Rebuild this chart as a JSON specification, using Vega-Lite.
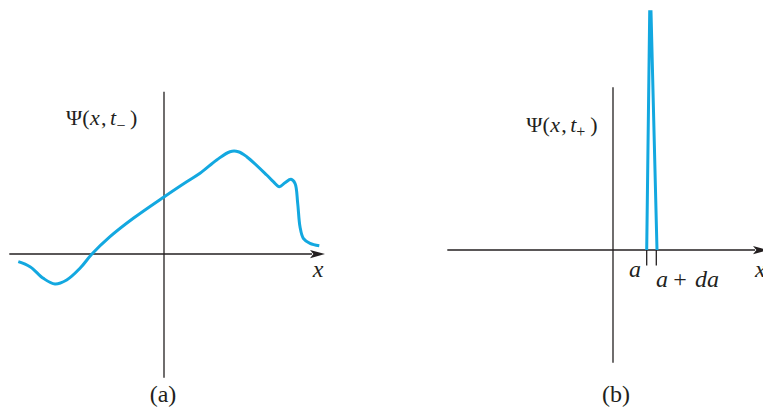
{
  "$schema": "https://vega.github.io/schema/vega-lite/v6.json",
  "padding": 0,
  "spacing": 0,
  "bounds": "flush",
  "background": "white",
  "config": {"view": {"stroke": null}, "text": {"font": "Liberation Serif", "color": "#231f20"}},
  "datasets": {
    "curve": [
      {"x": -14.57, "y": -0.77}, {"x": -13.4, "y": -1.27}, {"x": -12.07, "y": -2.43}, {"x": -10.9, "y": -3.0},
      {"x": -9.73, "y": -2.6}, {"x": -8.4, "y": -1.43}, {"x": -7.23, "y": -0.03}, {"x": -5.4, "y": 1.73},
      {"x": -3.07, "y": 3.57}, {"x": 0.03, "y": 5.73}, {"x": 2.27, "y": 7.23}, {"x": 3.6, "y": 8.07},
      {"x": 5.27, "y": 9.4}, {"x": 6.6, "y": 10.23}, {"x": 7.43, "y": 10.23}, {"x": 8.27, "y": 9.73},
      {"x": 10.27, "y": 7.9}, {"x": 10.93, "y": 7.23}, {"x": 11.53, "y": 6.73}, {"x": 12.1, "y": 7.13},
      {"x": 12.7, "y": 7.47}, {"x": 13.1, "y": 7.07}, {"x": 13.37, "y": 5.07}, {"x": 13.6, "y": 2.73},
      {"x": 13.93, "y": 1.57}, {"x": 14.6, "y": 1.07}, {"x": 15.53, "y": 0.83}
    ],
    "spike": [
      {"x": 3.37, "y": 0}, {"x": 3.67, "y": 23.83}, {"x": 3.8, "y": 23.83}, {"x": 4.4, "y": 0}
    ],
    "axes": [
      {"panel": "a", "x": 0, "y": 16.23, "x2": 0, "y2": -12.37},
      {"panel": "a", "x": -15.47, "y": 0, "x2": 14.8, "y2": 0},
      {"panel": "b", "x": 0, "y": 16.27, "x2": 0, "y2": -11.27},
      {"panel": "b", "x": -16.57, "y": 0, "x2": 14.2, "y2": 0},
      {"panel": "b", "x": 3.37, "y": 0, "x2": 3.37, "y2": -1.55},
      {"panel": "b", "x": 4.33, "y": 0, "x2": 4.33, "y2": -1.55}
    ],
    "arrows": [
      {"panel": "a", "x": 15.35, "y": 0},
      {"panel": "b", "x": 14.75, "y": 0}
    ],
    "texts": [
      {"panel": "a", "kind": "up", "text": "Ψ(", "x": -9.8, "y": 12.9},
      {"panel": "a", "kind": "it", "text": "x", "x": -7.4, "y": 12.9},
      {"panel": "a", "kind": "up", "text": ",", "x": -6.3, "y": 12.9},
      {"panel": "a", "kind": "it", "text": "t", "x": -5.4, "y": 12.9},
      {"panel": "a", "kind": "sub", "text": "−", "x": -4.75, "y": 12.3},
      {"panel": "a", "kind": "up", "text": ")", "x": -3.4, "y": 12.9},
      {"panel": "a", "kind": "labc", "text": "x", "x": 15.4, "y": -2.27},
      {"panel": "b", "kind": "up", "text": "Ψ(", "x": -8.67, "y": 11.8},
      {"panel": "b", "kind": "it", "text": "x", "x": -6.27, "y": 11.8},
      {"panel": "b", "kind": "up", "text": ",", "x": -5.17, "y": 11.8},
      {"panel": "b", "kind": "it", "text": "t", "x": -4.27, "y": 11.8},
      {"panel": "b", "kind": "sub", "text": "+", "x": -3.67, "y": 11.3},
      {"panel": "b", "kind": "up", "text": ")", "x": -2.27, "y": 11.8},
      {"panel": "b", "kind": "labc", "text": "a", "x": 2.2, "y": -2.67},
      {"panel": "b", "kind": "lab", "text": "a", "x": 4.3, "y": -3.67},
      {"panel": "b", "kind": "labup", "text": "+", "x": 6.03, "y": -3.67},
      {"panel": "b", "kind": "lab", "text": "da", "x": 8.2, "y": -3.67},
      {"panel": "b", "kind": "lab", "text": "x", "x": 14.2, "y": -2.67}
    ],
    "captions": [
      {"panel": "a", "text": "(a)", "x": -0.1, "y": -14.8},
      {"panel": "b", "text": "(b)", "x": 0.3, "y": -15.2}
    ]
  },
  "hconcat": [
    {
      "width": 381,
      "height": 407,
      "encoding": {
        "x": {"field": "x", "type": "quantitative", "axis": null, "scale": {"domain": [-16.4, 21.7], "nice": false, "zero": false}},
        "y": {"field": "y", "type": "quantitative", "axis": null, "scale": {"domain": [-15.3, 25.4], "nice": false, "zero": false}}
      },
      "layer": [
        {"data": {"name": "axes"}, "transform": [{"filter": "datum.panel === 'a'"}], "mark": {"type": "rule", "color": "#231f20", "strokeWidth": 1.3},
         "encoding": {"x2": {"field": "x2"}, "y2": {"field": "y2"}}},
        {"data": {"name": "arrows"}, "transform": [{"filter": "datum.panel === 'a'"}], "mark": {"type": "point", "shape": "M1,0L-1,-0.55L-0.55,0L-1,0.55Z", "size": 225, "filled": true, "opacity": 1, "color": "#231f20", "strokeWidth": 0}},
        {"data": {"name": "curve"}, "mark": {"type": "line", "color": "#13a8e0", "strokeWidth": 3, "interpolate": "catmull-rom"}},
        {"data": {"name": "texts"}, "transform": [{"filter": "datum.panel === 'a' && datum.kind === 'up'"}], "mark": {"type": "text", "font": "Liberation Serif", "fontSize": 22, "align": "left", "baseline": "alphabetic"}, "encoding": {"text": {"field": "text"}}},
        {"data": {"name": "texts"}, "transform": [{"filter": "datum.panel === 'a' && datum.kind === 'it'"}], "mark": {"type": "text", "font": "Liberation Serif", "fontSize": 22, "fontStyle": "italic", "align": "left", "baseline": "alphabetic"}, "encoding": {"text": {"field": "text"}}},
        {"data": {"name": "texts"}, "transform": [{"filter": "datum.panel === 'a' && datum.kind === 'sub'"}], "mark": {"type": "text", "font": "Liberation Serif", "fontSize": 16, "align": "left", "baseline": "alphabetic"}, "encoding": {"text": {"field": "text"}}},
        {"data": {"name": "texts"}, "transform": [{"filter": "datum.panel === 'a' && datum.kind === 'labc'"}], "mark": {"type": "text", "font": "Liberation Serif", "fontSize": 24, "fontStyle": "italic", "align": "center", "baseline": "alphabetic"}, "encoding": {"text": {"field": "text"}}},
        {"data": {"name": "captions"}, "transform": [{"filter": "datum.panel === 'a'"}], "mark": {"type": "text", "font": "Liberation Serif", "fontSize": 24, "align": "center", "baseline": "alphabetic"}, "encoding": {"text": {"field": "text"}}}
      ]
    },
    {
      "width": 382,
      "height": 407,
      "encoding": {
        "x": {"field": "x", "type": "quantitative", "axis": null, "scale": {"domain": [-23.2, 15.0], "nice": false, "zero": false}},
        "y": {"field": "y", "type": "quantitative", "axis": null, "scale": {"domain": [-15.7, 25.0], "nice": false, "zero": false}}
      },
      "layer": [
        {"data": {"name": "axes"}, "transform": [{"filter": "datum.panel === 'b'"}], "mark": {"type": "rule", "color": "#231f20", "strokeWidth": 1.3},
         "encoding": {"x2": {"field": "x2"}, "y2": {"field": "y2"}}},
        {"data": {"name": "arrows"}, "transform": [{"filter": "datum.panel === 'b'"}], "mark": {"type": "point", "shape": "M1,0L-1,-0.55L-0.55,0L-1,0.55Z", "size": 225, "filled": true, "opacity": 1, "color": "#231f20", "strokeWidth": 0}},
        {"data": {"name": "spike"}, "mark": {"type": "line", "color": "#13a8e0", "strokeWidth": 3, "interpolate": "linear", "strokeCap": "butt"}},
        {"data": {"name": "texts"}, "transform": [{"filter": "datum.panel === 'b' && datum.kind === 'up'"}], "mark": {"type": "text", "font": "Liberation Serif", "fontSize": 22, "align": "left", "baseline": "alphabetic"}, "encoding": {"text": {"field": "text"}}},
        {"data": {"name": "texts"}, "transform": [{"filter": "datum.panel === 'b' && datum.kind === 'it'"}], "mark": {"type": "text", "font": "Liberation Serif", "fontSize": 22, "fontStyle": "italic", "align": "left", "baseline": "alphabetic"}, "encoding": {"text": {"field": "text"}}},
        {"data": {"name": "texts"}, "transform": [{"filter": "datum.panel === 'b' && datum.kind === 'sub'"}], "mark": {"type": "text", "font": "Liberation Serif", "fontSize": 16, "align": "left", "baseline": "alphabetic"}, "encoding": {"text": {"field": "text"}}},
        {"data": {"name": "texts"}, "transform": [{"filter": "datum.panel === 'b' && datum.kind === 'labc'"}], "mark": {"type": "text", "font": "Liberation Serif", "fontSize": 24, "fontStyle": "italic", "align": "center", "baseline": "alphabetic"}, "encoding": {"text": {"field": "text"}}},
        {"data": {"name": "texts"}, "transform": [{"filter": "datum.panel === 'b' && datum.kind === 'lab'"}], "mark": {"type": "text", "font": "Liberation Serif", "fontSize": 24, "fontStyle": "italic", "align": "left", "baseline": "alphabetic"}, "encoding": {"text": {"field": "text"}}},
        {"data": {"name": "texts"}, "transform": [{"filter": "datum.panel === 'b' && datum.kind === 'labup'"}], "mark": {"type": "text", "font": "Liberation Serif", "fontSize": 24, "align": "left", "baseline": "alphabetic"}, "encoding": {"text": {"field": "text"}}},
        {"data": {"name": "captions"}, "transform": [{"filter": "datum.panel === 'b'"}], "mark": {"type": "text", "font": "Liberation Serif", "fontSize": 24, "align": "center", "baseline": "alphabetic"}, "encoding": {"text": {"field": "text"}}}
      ]
    }
  ]
}
